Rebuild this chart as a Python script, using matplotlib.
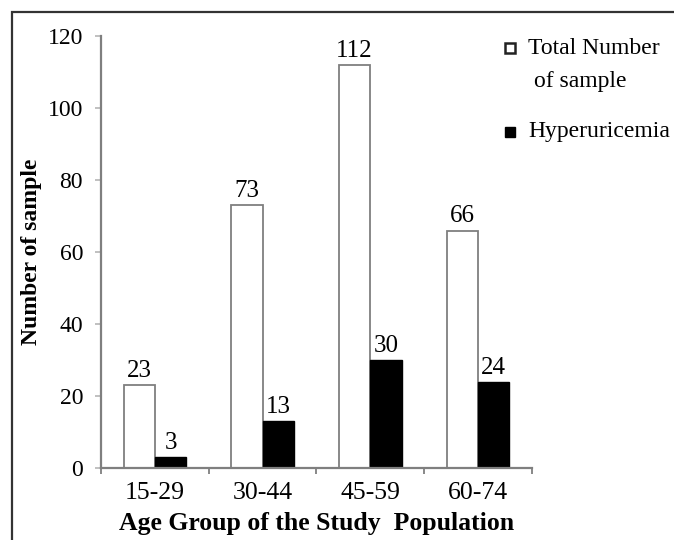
import numpy as np
import matplotlib.pyplot as plt
from matplotlib.patches import Rectangle

grupos = ['15-29', '30-44', '45-59', '60-74']
total = [23, 73, 112, 66]
hiper = [3, 13, 30, 24]

plt.rcParams['font.family'] = ['Liberation Serif', 'DejaVu Serif']

fig = plt.figure(figsize=(6.74, 5.4), dpi=100)
ax = fig.add_axes([0.150, 0.133, 0.639, 0.800])

x = np.arange(len(grupos))
w = 0.29
gris = '#7f7f7f'
b1 = ax.bar(x - w/2, total, w, color='white', edgecolor=gris, linewidth=1.3)
b2 = ax.bar(x + w/2, hiper, w, color='black', edgecolor='black', linewidth=1)

for xi, v in zip(x - w/2, total):
    ax.text(xi, v + 0.9, str(v), ha='center', va='bottom', fontsize=18)
for xi, v in zip(x + w/2, hiper):
    ax.text(xi, v + 0.9, str(v), ha='center', va='bottom', fontsize=18)

ax.set_xlim(-0.5, 3.5)
ax.set_ylim(0, 120)
ax.set_yticks(range(0, 121, 20))
ax.set_xticks(x)
ax.set_xticklabels(grupos)
ax.set_xticks(np.arange(-0.5, 3.6, 1), minor=True)
ax.tick_params(axis='x', which='major', length=0, pad=10, labelsize=18.5)
ax.tick_params(axis='x', which='minor', length=4, color=gris, width=1.3)
ax.tick_params(axis='y', length=4, color='#bbbbbb', width=1.3, pad=9, labelsize=17)

for s in ['top', 'right']:
    ax.spines[s].set_visible(False)
for s in ['left', 'bottom']:
    ax.spines[s].set_color(gris)
    ax.spines[s].set_linewidth(1.6)

ax.set_ylabel('Number of sample', fontsize=17, fontweight='bold', labelpad=4)
ax.set_xlabel('Age Group of the Study  Population', fontsize=18.5, fontweight='bold', labelpad=6)

# leyenda manual
fig.add_artist(Rectangle((505/674, 1 - 53/540), 10/674, 10/540, transform=fig.transFigure,
                         facecolor='white', edgecolor='#222222', linewidth=1.8))
fig.add_artist(Rectangle((505/674, 1 - 137/540), 10/674, 10/540, transform=fig.transFigure,
                         facecolor='black', edgecolor='black', linewidth=1))
fig.text(528/674, 1 - 48/540, 'Total Number', fontsize=17, va='center', ha='left')
fig.text(534/674, 1 - 81/540, 'of sample', fontsize=17, va='center', ha='left')
fig.text(528/674, 1 - 132/540, 'Hyperuricemia', fontsize=17, va='center', ha='left')

# marco exterior
fig.add_artist(Rectangle((12/674, -0.2), 1.2, 1.2 - 12/540, transform=fig.transFigure,
                         facecolor='none', edgecolor='#333333', linewidth=1.6))

fig.savefig('out.png', dpi=100)
